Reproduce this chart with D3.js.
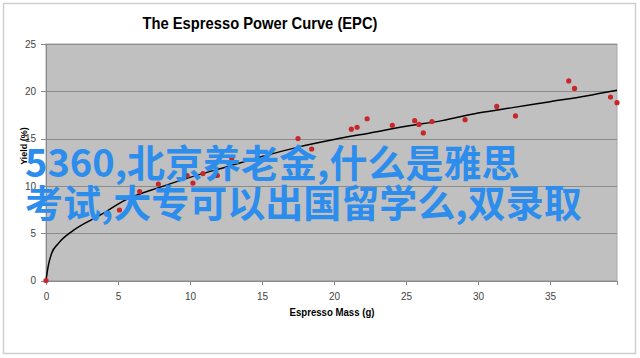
<html>
<head>
<meta charset="UTF-8"/>
<script src="https://d3js.org/d3.v7.min.js"></script>
<title>espresso power curve</title>
<style>
body { margin:0; background:#fff; }
.axis path, .axis line { stroke:#8a8a8a; shape-rendering:crispEdges; }
.axis text { fill:#444; font-family:Arial, "Liberation Sans", sans-serif; font-size:10px; }
.grid { stroke:#8c8c8c; shape-rendering:crispEdges; }
</style>
</head>
<body>
<svg id='big' width=640 height=358></svg>
<script>
'use strict';

// shots: espresso mass (g) vs yield (%)
var massX = [0, 5.1, 6.5, 7.8, 9.8, 10.2, 10.9, 11.9, 12.9, 17.5, 18.45, 21.2, 21.6, 22.3,
	24.05, 25.6, 25.9, 26.2, 26.8, 29.1, 31.3, 32.6, 36.3, 36.7, 39.2, 39.65];
var yieldY = [0, 7.45, 9.4, 10.2, 11.1, 10.3, 11.3, 11.1, 12.9, 15.0, 13.9, 16.0, 16.2, 17.1,
	16.4, 16.9, 16.5, 15.6, 16.8, 17.0, 18.4, 17.4, 21.1, 20.3, 19.4, 18.8];

// power curve
var curveX = [0, 0.15, 0.4, 0.85, 1.9, 3.75, 5.5, 8, 10, 12.5, 15, 17.5, 20, 22.5, 25,
	27.5, 30, 32.5, 35, 37.5, 39.65];
var curveY = [0, 1.5, 2.9, 3.9, 5.3, 6.9, 8.5, 9.9, 10.9, 12.0, 13.1, 14.1, 14.9, 15.6, 16.3,
	16.9, 17.7, 18.3, 18.9, 19.5, 20.1];

var xTicks = [0, 5, 10, 15, 20, 25, 30, 35];
var yTicks = [0, 5, 10, 15, 20, 25];

var title = 'The Espresso Power Curve (EPC)';
var xTitle = 'Espresso Mass (g)';
var yTitle = 'Yield (%)';
var overlay = ['5360,北京养老金,什么是雅思', '考试,大专可以出国留学么,双录取'];

var svg = d3.select('#big');

// outer frame
svg.append('rect')
.attr('x', 3.5).attr('y', 3.5)
.attr('width', 632).attr('height', 350)
.attr('fill', '#fff')
.attr('stroke', '#cfcfcf')
.attr('stroke-width', 1.5);

var sx = d3.scaleLinear().domain([0, 39.65]).range([46, 617]);
var sy = d3.scaleLinear().domain([0, 25]).range([280.5, 44]);

svg.append('rect')
.attr('x', sx(0)).attr('y', sy(25))
.attr('width', sx(39.65) - sx(0))
.attr('height', sy(0) - sy(25))
.attr('fill', '#c0c0c0')
.attr('stroke', '#a8a8a8');

svg.selectAll('.grid')
.data(yTicks.slice(1))
.enter()
.append('line')
.attr('class', 'grid')
.attr('x1', sx(0))
.attr('x2', sx(39.65))
.attr('y1', function(d){return Math.round(sy(d)) + 0.5})
.attr('y2', function(d){return Math.round(sy(d)) + 0.5});

var yAxis = d3.axisLeft(sy).tickValues(yTicks).tickSize(5).tickPadding(5);
svg.append('g')
.attr('class', 'axis')
.attr('transform', 'translate(' + sx(0) + ',0)')
.call(yAxis);

var xAxis = d3.axisBottom(sx).tickValues(xTicks).tickSize(4).tickPadding(8);
svg.append('g')
.attr('class', 'axis')
.attr('transform', 'translate(0,' + sy(0) + ')')
.call(xAxis);

// trend curve
var line = d3.line()
.x(function(d){return sx(d[0])})
.y(function(d){return sy(d[1])})
.curve(d3.curveMonotoneX);

svg.append('path')
.datum(d3.zip(curveX, curveY))
.attr('d', line)
.attr('fill', 'none')
.attr('stroke', '#000')
.attr('stroke-width', 1.5);

svg.selectAll('.dot')
.data(d3.zip(massX, yieldY))
.enter()
.append('circle')
.attr('class', 'dot')
.attr('cx', function(d){return sx(d[0])})
.attr('cy', function(d){return sy(d[1])})
.attr('r', 2.6)
.attr('fill', '#c8262b');

// titles
svg.append('text')
.text(title)
.attr('x', 260).attr('y', 29)
.attr('text-anchor', 'middle')
.attr('font-family', 'Arial, "Liberation Sans", sans-serif')
.attr('font-weight', 'bold')
.attr('font-size', 17)
.attr('textLength', 235)
.attr('lengthAdjust', 'spacingAndGlyphs');

svg.append('text')
.text(xTitle)
.attr('x', 332).attr('y', 316)
.attr('text-anchor', 'middle')
.attr('font-family', 'Arial, "Liberation Sans", sans-serif')
.attr('font-weight', 'bold')
.attr('font-size', 10)
.attr('textLength', 85)
.attr('lengthAdjust', 'spacingAndGlyphs');

svg.append('text')
.text(yTitle)
.attr('transform', 'translate(27,146) rotate(-90)')
.attr('text-anchor', 'middle')
.attr('font-family', 'Arial, "Liberation Sans", sans-serif')
.attr('font-weight', 'bold')
.attr('font-size', 9);

// overlay caption
svg.selectAll('.caption')
.data(overlay)
.enter()
.append('text')
.attr('class', 'caption')
.text(function(d){return d})
.attr('x', 25)
.attr('y', function(d, i){return 177 + i * 40})
.attr('font-family', '"Noto Sans CJK SC", sans-serif')
.attr('font-weight', 'bold')
.attr('font-size', 38)
.attr('fill', '#2d8ded');
</script>
</body>
</html>
